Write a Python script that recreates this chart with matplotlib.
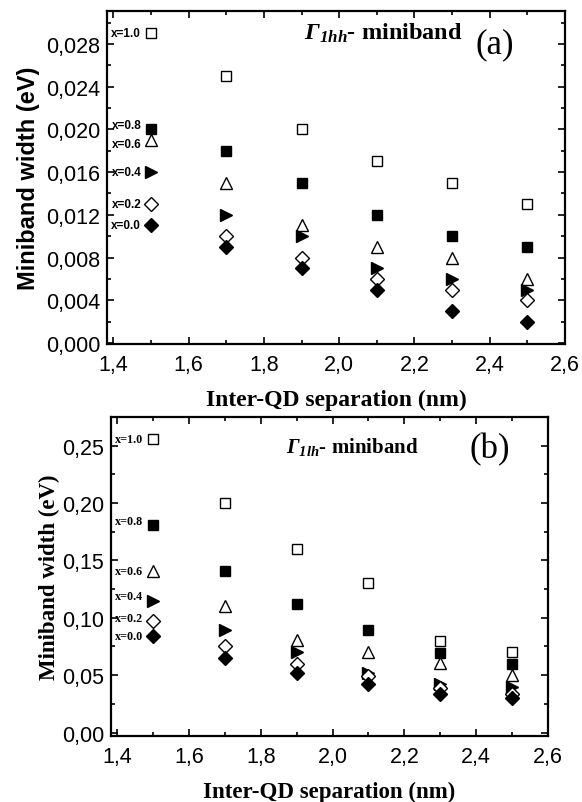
import numpy as np
import matplotlib.pyplot as plt
from matplotlib.ticker import FuncFormatter, MultipleLocator

plt.rcParams['mathtext.fontset'] = 'custom'
plt.rcParams['mathtext.it'] = 'Liberation Serif:italic:bold'
plt.rcParams['mathtext.rm'] = 'Liberation Serif:italic:bold'

# separation between dots (nm)
sep = [1.5, 1.7, 1.9, 2.1, 2.3, 2.5]
comp = ['x=1.0', 'x=0.8', 'x=0.6', 'x=0.4', 'x=0.2', 'x=0.0']

# Gamma_1hh miniband width (eV), one row per composition x
w_hh_10 = [0.029, 0.025, 0.020, 0.017, 0.015, 0.013]
w_hh_08 = [0.020, 0.018, 0.015, 0.012, 0.010, 0.009]
w_hh_06 = [0.019, 0.015, 0.011, 0.009, 0.008, 0.006]
w_hh_04 = [0.016, 0.012, 0.010, 0.007, 0.006, 0.005]
w_hh_02 = [0.013, 0.010, 0.008, 0.006, 0.005, 0.004]
w_hh_00 = [0.011, 0.009, 0.007, 0.005, 0.003, 0.002]

# Gamma_1lh miniband width (eV)
w_lh_10 = [0.256, 0.200, 0.160, 0.130, 0.080, 0.070]
w_lh_08 = [0.181, 0.141, 0.112, 0.089, 0.069, 0.060]
w_lh_06 = [0.141, 0.110, 0.081, 0.070, 0.061, 0.050]
w_lh_04 = [0.115, 0.089, 0.070, 0.052, 0.042, 0.040]
w_lh_02 = [0.097, 0.075, 0.060, 0.049, 0.039, 0.034]
w_lh_00 = [0.084, 0.065, 0.052, 0.042, 0.034, 0.030]

# marker, filled?, size
styles = [('s', False, 6.5), ('s', True, 6.5), ('^', False, 8.5),
          ('>', True, 8.5), ('D', False, 7), ('D', True, 7)]


def comma(fmt):
    return FuncFormatter(lambda v, p: (fmt % v).replace('.', ','))


def setup(ax, ymax, ymin, ystep, yfmt):
    ax.set_xlim(1.383, 2.6)
    ax.set_ylim(ymin, ymax)
    ax.xaxis.set_major_locator(MultipleLocator(0.2))
    ax.xaxis.set_minor_locator(MultipleLocator(0.1))
    ax.yaxis.set_major_locator(MultipleLocator(ystep))
    ax.yaxis.set_minor_locator(MultipleLocator(ystep / 2))
    ax.xaxis.set_major_formatter(comma('%.1f'))
    ax.yaxis.set_major_formatter(comma(yfmt))
    ax.tick_params(which='both', direction='in', top=True, right=True, width=1.2)
    ax.tick_params(which='major', length=5, labelsize=15.5)
    ax.tick_params(which='minor', length=3)
    ax.tick_params(axis='x', pad=7)
    ax.tick_params(axis='y', pad=5)
    for s in ax.spines.values():
        s.set_linewidth(1.6)
    for lab in ax.get_xticklabels() + ax.get_yticklabels():
        lab.set_fontfamily('Liberation Sans')


def draw(ax, series):
    for ys, (m, filled, ms) in zip(series, styles):
        ax.plot(sep, ys, linestyle='none', marker=m, markersize=ms,
                markerfacecolor='black' if filled else 'white',
                markeredgecolor='black', markeredgewidth=1.0, clip_on=False)


fig = plt.figure(figsize=(5.82, 8.03), dpi=100)

# ---- panel (a)
ax1 = fig.add_axes([0.1838, 0.5704, 0.787, 0.4147])
hh = [w_hh_10, w_hh_08, w_hh_06, w_hh_04, w_hh_02, w_hh_00]
setup(ax1, 0.0311, -0.0001, 0.004, '%.3f')
draw(ax1, hh)
dy_a = [0, 3, -3, 0, 0, 0]
for lab, ys, dy in zip(comp, hh, dy_a):
    ax1.annotate(lab, (sep[0], ys[0]), xytext=(-7, dy), textcoords='offset points',
                 ha='right', va='center', fontsize=8.5, fontweight='bold',
                 family='Liberation Sans')
ax1.set_ylabel('Miniband width (eV)', fontsize=17, fontweight='bold',
               family='Liberation Sans', labelpad=4)
ax1.set_xlabel('Inter-QD separation (nm)', fontsize=17, fontweight='bold',
               family='Liberation Serif', labelpad=10)
ax1.text(0.43, 0.935, r'$Γ_{1hh}$- miniband', transform=ax1.transAxes,
         fontsize=17.5, fontweight='bold', family='Liberation Serif', va='center')
ax1.text(0.805, 0.90, '(a)', transform=ax1.transAxes, fontsize=25,
         family='Liberation Serif', va='center')

# ---- panel (b)
ax2 = fig.add_axes([0.1907, 0.0822, 0.7509, 0.3973])
lh = [w_lh_10, w_lh_08, w_lh_06, w_lh_04, w_lh_02, w_lh_00]
setup(ax2, 0.275, -0.003, 0.05, '%.2f')
draw(ax2, lh)
dy_b = [0, 3, 0, 3, 2, 0]
for lab, ys, dy in zip(comp, lh, dy_b):
    ax2.annotate(lab, (sep[0], ys[0]), xytext=(-7, dy), textcoords='offset points',
                 ha='right', va='center', fontsize=8.7, fontweight='bold',
                 family='Liberation Serif')
ax2.set_ylabel('Miniband width (eV)', fontsize=16.5, fontweight='bold',
               family='Liberation Serif', labelpad=1)
ax2.set_xlabel('Inter-QD separation (nm)', fontsize=16.5, fontweight='bold',
               family='Liberation Serif', labelpad=10)
ax2.text(0.40, 0.91, r'$Γ_{1lh}$- miniband', transform=ax2.transAxes,
         fontsize=15, fontweight='bold', family='Liberation Serif', va='center')
ax2.text(0.82, 0.90, '(b)', transform=ax2.transAxes, fontsize=25,
         family='Liberation Serif', va='center')

fig.savefig('out.png', dpi=100)
